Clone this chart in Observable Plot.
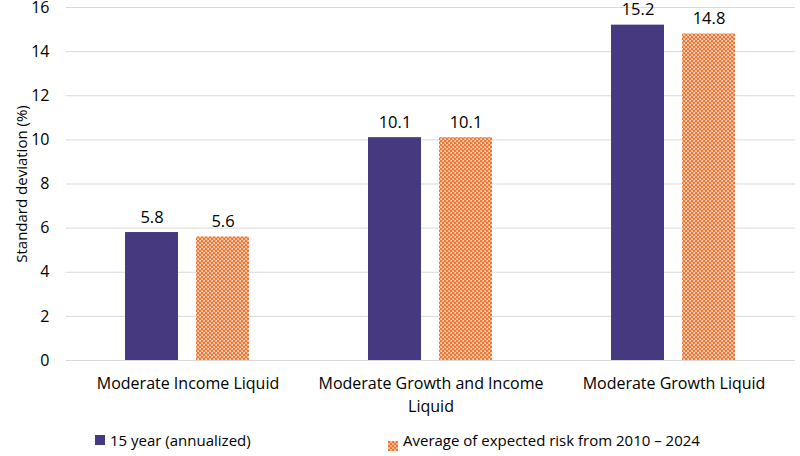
<!DOCTYPE html>
<html>
<head>
<meta charset="utf-8">
<script src="https://cdn.jsdelivr.net/npm/d3@7"></script>
<script src="https://cdn.jsdelivr.net/npm/@observablehq/plot@0.6"></script>
<style>
  html, body { margin: 0; padding: 0; background: #fff; }
  body { width: 800px; height: 456px; overflow: hidden; font-family: "Open Sans", sans-serif; }
  #legend { position: relative; height: 36px; font-size: 15px; color: #000; }
  .item { position: absolute; top: 10px; display: flex; align-items: center; }
  .sw { width: 10px; height: 10px; margin-right: 5px; }
</style>
</head>
<body>
<div id="chart"></div>
<div id="legend"></div>
<script>
const categories = ["Moderate Income Liquid", "Moderate Growth and Income Liquid", "Moderate Growth Liquid"];
const categoryLabels = ["Moderate Income Liquid", "Moderate Growth and Income\nLiquid", "Moderate Growth Liquid"];
const series = ["15 year (annualized)", "Average of expected risk from 2010 – 2024"];
const values15 = [5.8, 10.1, 15.2];
const valuesAvg = [5.6, 10.1, 14.8];
const yTicks = [0, 2, 4, 6, 8, 10, 12, 14, 16];

const purple = "#46397f";

const rows15 = categories.map((c, i) => ({group: c, series: series[0], value: values15[i]}));
const rowsAvg = categories.map((c, i) => ({group: c, series: series[1], value: valuesAvg[i]}));
const all = rows15.concat(rowsAvg);

const chart = Plot.plot({
  width: 800,
  height: 420,
  marginLeft: 65,
  marginRight: 5,
  marginTop: 7,
  marginBottom: 60,
  style: {fontFamily: "Open Sans, sans-serif", fontSize: "15px", color: "#000", background: "#fff"},
  fx: {domain: categories, padding: 0, label: null, axis: null},
  x: {domain: series, paddingInner: 0.25, paddingOuter: 0.816, axis: null},
  y: {domain: [0, 16], ticks: yTicks, label: "Standard deviation (%)"},
  marks: [
    Plot.ruleY(yTicks, {stroke: "#d9d9d9", strokeWidth: 1}),
    Plot.axisY({ticks: yTicks, tickSize: 0, tickPadding: 17, label: null, fontSize: 16}),
    Plot.axisY({ticks: [], tickSize: 0, label: "Standard deviation (%)", labelAnchor: "center", labelArrow: "none", labelOffset: 50, fontSize: 15}),
    Plot.axisFx({anchor: "bottom", tickSize: 0, tickPadding: 13, label: null, fontSize: 16, lineHeight: 1.4,
      tickFormat: d => categoryLabels[categories.indexOf(d)]}),
    Plot.barY(rows15, {fx: "group", x: "series", y: "value", fill: purple}),
    Plot.barY(rowsAvg, {fx: "group", x: "series", y: "value", fill: "url(#dotpat)"}),
    Plot.text(all, {fx: "group", x: "series", y: "value", text: d => d.value.toFixed(1), lineAnchor: "bottom", dy: -10, fontSize: 16.5, fill: "#000"})
  ]
});

// pattern definition
const ns = "http://www.w3.org/2000/svg";
const defs = document.createElementNS(ns, "defs");
defs.innerHTML = `
  <pattern id="dotpat" patternUnits="userSpaceOnUse" width="4" height="4">
    <rect width="4" height="4" fill="#f9b58c"/>
    <rect x="0" y="0" width="2" height="2" fill="#f37634"/>
    <rect x="2" y="2" width="2" height="2" fill="#f37634"/>
    <rect x="3" y="0" width="1" height="1" fill="#fde6d6"/>
    <rect x="1" y="3" width="1" height="1" fill="#fde6d6"/>
  </pattern>`;
chart.insertBefore(defs, chart.firstChild);
document.getElementById("chart").appendChild(chart);

// legend
const legend = document.getElementById("legend");
const items = [
  {label: series[0], left: 95, fill: purple},
  {label: series[1], left: 388, fill: "pattern"}
];
items.forEach(it => {
  const div = document.createElement("div");
  div.className = "item";
  div.style.left = it.left + "px";
  const sw = document.createElement("div");
  sw.className = "sw";
  if (it.fill === "pattern") {
    sw.innerHTML = `<svg width="10" height="10"><defs><pattern id="dotpat2" patternUnits="userSpaceOnUse" width="4" height="4">
      <rect width="4" height="4" fill="#f9b58c"/><rect width="2" height="2" fill="#f37634"/><rect x="2" y="2" width="2" height="2" fill="#f37634"/></pattern></defs>
      <rect width="10" height="10" fill="url(#dotpat2)"/></svg>`;
  } else {
    sw.style.background = it.fill;
  }
  const t = document.createElement("span");
  t.textContent = it.label;
  div.appendChild(sw);
  div.appendChild(t);
  legend.appendChild(div);
});
</script>
</body>
</html>
